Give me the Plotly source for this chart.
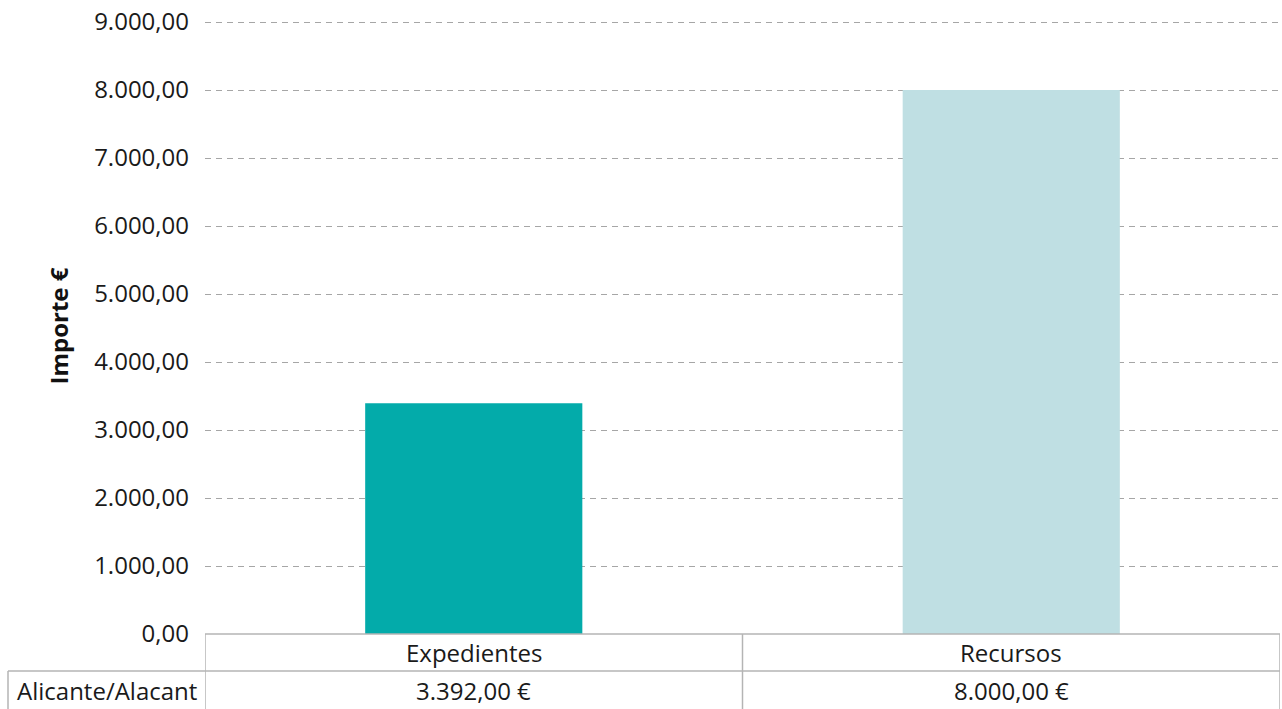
import plotly.graph_objects as go

categories = ["Expedientes", "Recursos"]
values = [3392.00, 8000.00]
series_name = "Alicante/Alacant"
bar_colors = ["#03ABAA", "#BFDFE3"]
y_title = "Importe €"
y_ticks = [0, 1000, 2000, 3000, 4000, 5000, 6000, 7000, 8000, 9000]

W, H = 1282, 709
ml, mr, mt, mb = 205, 2, 18, 75
pw, ph = W - ml - mr, H - mt - mb
y_top = 9000 * ph / 612.0

def px_x(px):
    return (px - ml) / pw

def px_y(py):
    return (H - mb - py) / ph

def fmt_eur(v):
    s = f"{v:,.2f}"
    s = s.replace(",", "X").replace(".", ",").replace("X", ".")
    return s + " €"

FONT = "Open Sans"
FS = 24
TXT = "#1a1a1a"
fig = go.Figure()
fig.add_trace(go.Bar(
    x=categories, y=values, name=series_name,
    marker=dict(color=bar_colors, line=dict(width=0)),
    width=0.404, hoverinfo="skip",
))

line_col = "#b4b4b4"
lw = 1.5
shapes = []
shapes.append(dict(type="line", xref="x", yref="paper", x0=-0.5, x1=1.5,
                   y0=0, y1=0, line=dict(color=line_col, width=lw)))
shapes.append(dict(type="line", xref="paper", yref="paper", x0=px_x(8), x1=1,
                   y0=px_y(671), y1=px_y(671), line=dict(color=line_col, width=lw)))
shapes.append(dict(type="line", xref="paper", yref="paper", x0=px_x(8), x1=px_x(8),
                   y0=px_y(671), y1=px_y(712), line=dict(color=line_col, width=lw)))
for xv in [-0.5, 0.5, 1.5]:
    shapes.append(dict(type="line", xref="x", yref="paper", x0=xv, x1=xv,
                       y0=0, y1=px_y(712), line=dict(color=line_col, width=lw)))

annotations = []
for c, v in zip(categories, values):
    annotations.append(dict(x=c, xref="x", y=px_y(652), yref="paper", text=c,
                            showarrow=False, font=dict(family=FONT, size=FS, color=TXT),
                            xanchor="center", yanchor="middle"))
    annotations.append(dict(x=c, xref="x", y=px_y(690), yref="paper", text=fmt_eur(v),
                            showarrow=False, font=dict(family=FONT, size=FS, color=TXT),
                            xanchor="center", yanchor="middle"))
annotations.append(dict(x=px_x(106.5), xref="paper", y=px_y(690), yref="paper",
                        text=series_name, showarrow=False,
                        font=dict(family=FONT, size=FS, color=TXT),
                        xanchor="center", yanchor="middle"))

fig.update_layout(
    width=W, height=H,
    margin=dict(l=ml, r=mr, t=mt, b=mb, pad=0, autoexpand=False),
    paper_bgcolor="white", plot_bgcolor="white",
    separators=",.",
    showlegend=False,
    bargap=0.6,
    font=dict(family=FONT, size=FS, color=TXT),
    xaxis=dict(showticklabels=False, showgrid=False, zeroline=False, showline=False,
               range=[-0.5, 1.5], fixedrange=True),
    yaxis=dict(range=[0, y_top], tickvals=y_ticks, tickformat=",.2f",
               showgrid=True, gridcolor="#a6a6a6", gridwidth=1, griddash="6px,5px",
               zeroline=False, showline=False, ticks="", ticklabelstandoff=15,
               ticklabeloverflow="allow", fixedrange=True,
               tickfont=dict(family=FONT, size=FS, color=TXT),
               title=dict(text="<b>" + y_title + "</b>", standoff=18,
                          font=dict(family=FONT, size=FS, color="#111"))),
    shapes=shapes, annotations=annotations,
)

fig.write_html(
    "out.html",
    config={"displayModeBar": False},
    post_script="document.body.style.margin='0';"
                "document.documentElement.style.overflow='hidden';"
                "document.body.style.overflow='hidden';",
)
